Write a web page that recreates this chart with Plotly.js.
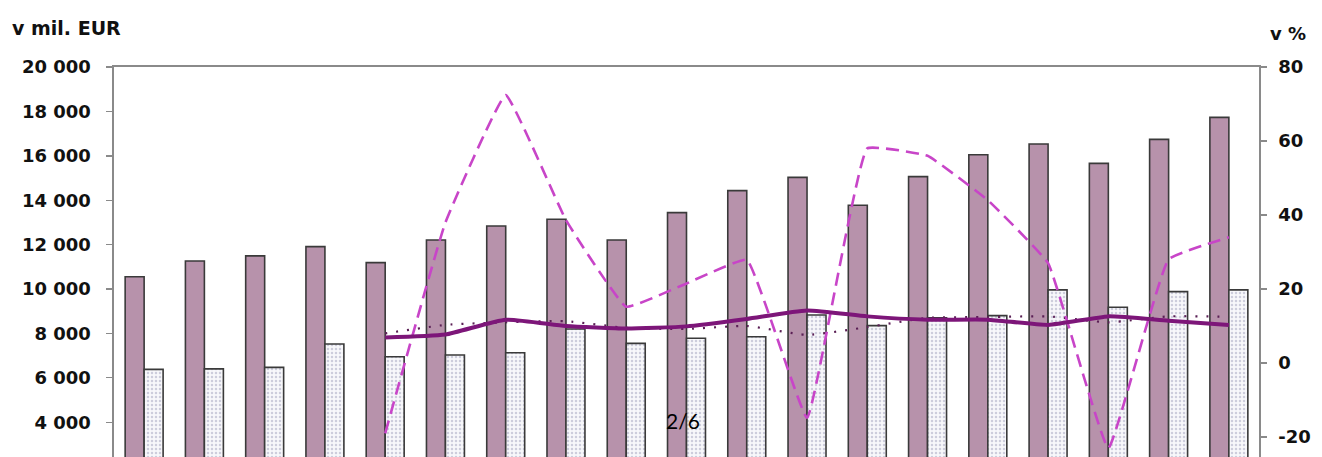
<!DOCTYPE html>
<html>
<head>
<meta charset="utf-8">
<script src="https://cdn.plot.ly/plotly-3.0.1.min.js"></script>
<style>
  html, body { margin: 0; padding: 0; background: #ffffff; overflow: hidden; }
  #chart { width: 1322px; height: 600px; }
</style>
</head>
<body>
<div id="chart"></div>
<script>
// Categories (19 periods; their labels lie below the visible crop)
const categories = ["1","2","3","4","5","6","7","8","9","10","11","12","13","14","15","16","17","18","19"];

// Left axis (v mil. EUR)
const barsDark  = [10550, 11260, 11490, 11910, 11190, 12210, 12840, 13140, 12210, 13440, 14430, 15030, 13770, 15060, 16050, 16530, 15660, 16740, 17730];
const barsLight = [6380, 6400, 6470, 7520, 6950, 7030, 7130, 8200, 7550, 7780, 7850, 8830, 8350, 8700, 8800, 9960, 9180, 9880, 9960];

// Right axis (v %), from the 5th period on
const lineCats   = categories.slice(4);
const lineSolid  = [6.9, 7.7, 11.7, 10.0, 9.3, 9.9, 11.9, 14.2, 12.6, 11.7, 11.7, 10.3, 12.6, 11.4, 10.3];
const lineDashed = [-19, 38, 72.4, 38.6, 15.2, 21.5, 27.9, -14.8, 58, 56, 44, 27, -23, 28, 34];
const lineDotted = [8, 10.3, 11, 11.3, 9.5, 9.2, 10, 7.6, 9.7, 12.2, 12.4, 12.6, 11, 12.6, 12.5];

// Tick marks visible in the crop
const leftTicks  = [2000, 4000, 6000, 8000, 10000, 12000, 14000, 16000, 18000, 20000];
const rightTicks = [-20, 0, 20, 40, 60, 80];
const rightTickText = ["-20", "0", "20", "40", "60", "80"];

const tickFont = { family: "DejaVu Sans, Liberation Sans, Arial", size: 18, color: "#111111", weight: "bold" };

const traces = [
  {
    type: "bar", x: categories, y: barsDark, name: "A",
    marker: { color: "#b792ab", line: { color: "#3a3a3a", width: 1.6 } },
    yaxis: "y", showlegend: false
  },
  {
    type: "bar", x: categories, y: barsLight, name: "B",
    marker: {
      color: "#ffffff",
      line: { color: "#3a3a3a", width: 1.6 },
      pattern: { shape: ".", fgcolor: "#cdcddc", bgcolor: "#f8f8fb", size: 4, solidity: 0.3 }
    },
    yaxis: "y", showlegend: false
  },
  {
    type: "scatter", mode: "lines", x: lineCats, y: lineDotted, yaxis: "y2",
    line: { color: "#5a1f55", width: 2.2, dash: "2px,9px", shape: "spline", smoothing: 0.5 },
    showlegend: false
  },
  {
    type: "scatter", mode: "lines", x: lineCats, y: lineDashed, yaxis: "y2",
    line: { color: "#c845c8", width: 2.6, dash: "13px,7px", shape: "spline", smoothing: 0.28 },
    showlegend: false
  },
  {
    type: "scatter", mode: "lines", x: lineCats, y: lineSolid, yaxis: "y2",
    line: { color: "#7d1679", width: 4, shape: "spline", smoothing: 0.5 },
    showlegend: false
  }
];

const layout = {
  width: 1322, height: 600,
  margin: { l: 114, r: 63, t: 67, b: 89, pad: 0 },
  paper_bgcolor: "#ffffff", plot_bgcolor: "#ffffff",
  separators: ", ",
  barmode: "group", bargap: 0.37, bargroupgap: 0,
  showlegend: false,
  xaxis: {
    type: "category", categoryorder: "array", categoryarray: categories,
    showline: true, mirror: true, linecolor: "#8a8a8a", linewidth: 1.6,
    showgrid: false, ticks: "", showticklabels: false, zeroline: false
  },
  yaxis: {
    range: [0, 20000], tickvals: leftTicks, tickformat: ",d",
    showline: true, linecolor: "#8a8a8a", linewidth: 1.6,
    ticks: "outside", ticklen: 6, tickcolor: "#8a8a8a", tickwidth: 1.4,
    ticklabelstandoff: 12,
    showgrid: false, zeroline: false, tickfont: tickFont
  },
  yaxis2: {
    range: [-40, 80], tickvals: rightTicks, ticktext: rightTickText, overlaying: "y", side: "right",
    showline: true, linecolor: "#8a8a8a", linewidth: 1.6,
    ticks: "outside", ticklen: 6, tickcolor: "#8a8a8a", tickwidth: 1.4,
    ticklabelstandoff: 8,
    showgrid: false, zeroline: false, tickfont: tickFont
  },
  annotations: [
    { text: "v mil. EUR", xref: "paper", yref: "paper", x: -104/1145, y: 1 + 39/444,
      xanchor: "left", yanchor: "middle", showarrow: false,
      font: { family: "DejaVu Sans, Liberation Sans, Arial", size: 19, color: "#111111", weight: "bold" } },
    { text: "v %", xref: "paper", yref: "paper", x: 1 + 49/1145, y: 1 + 33/444,
      xanchor: "right", yanchor: "middle", showarrow: false,
      font: { family: "DejaVu Sans, Liberation Sans, Arial", size: 18, color: "#111111", weight: "bold" } },
    { text: "2/6", xref: "paper", yref: "paper", x: (683 - 114)/1145, y: 1 - (420 - 67)/444,
      xanchor: "center", yanchor: "middle", showarrow: false,
      font: { family: "Lato, Open Sans, sans-serif", size: 21, color: "#000000" } }
  ]
};

Plotly.newPlot("chart", traces, layout, { displayModeBar: false, staticPlot: true });
</script>
</body>
</html>
